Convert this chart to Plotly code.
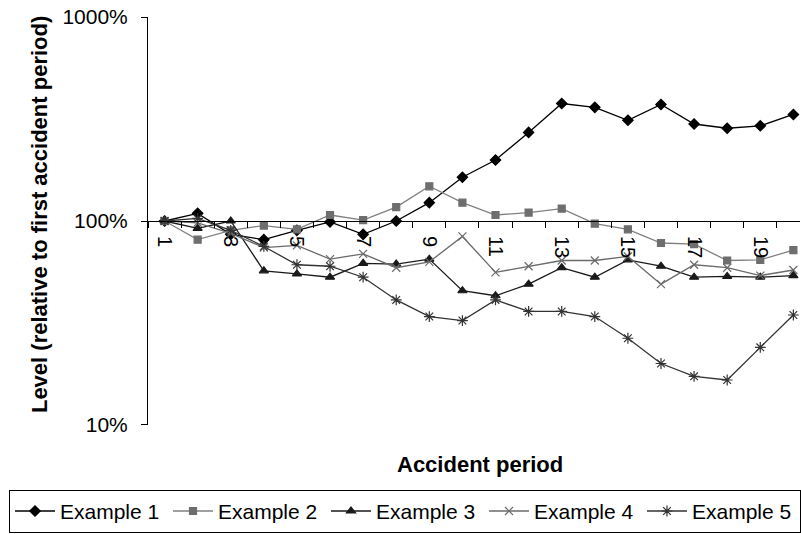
import plotly.graph_objects as go

periods = list(range(1, 21))
tick_vals = [1, 3, 5, 7, 9, 11, 13, 15, 17, 19]
tick_text = [str(v) for v in tick_vals]

example1 = [100, 109, 86, 81, 90, 99, 86, 100, 123, 164, 199, 272, 377, 361, 312, 373, 299, 285, 293, 333]
example2 = [100, 81, 90, 95, 91, 107, 101, 117, 148, 123, 107, 110, 115, 97, 91, 78, 77, 64, 64.5, 72]
example3 = [100, 92, 100, 57, 55, 53, 62, 61.5, 65, 45.5, 43, 49, 59, 53, 64.5, 60, 53, 53.5, 53, 54]
example4 = [100, 98, 87, 74, 76, 65, 69, 59, 63, 84, 56, 60, 64, 64, 67, 49, 61, 59, 54, 57.5]
example5 = [100, 103, 90, 75, 61, 60, 53, 41, 34, 32.5, 41, 36, 36, 34, 26.6, 20, 17.3, 16.6, 24, 34.6]

series = [
    ("Example 1", example1, "#000000", "#000000", "diamond", 8),
    ("Example 2", example2, "#808080", "#6e6e6e", "square", 7),
    ("Example 3", example3, "#1a1a1a", "#1a1a1a", "triangle-up", 8),
    ("Example 4", example4, "#6a6a6a", "#6a6a6a", "x-thin-open", 8),
    ("Example 5", example5, "#333333", "#333333", "asterisk-open", 9),
]

fig = go.Figure()
for name, vals, lc, mc, sym, sz in series:
    fig.add_trace(go.Scatter(
        x=periods, y=vals, name=name, mode="lines+markers",
        line=dict(color=lc, width=1.3),
        marker=dict(symbol=sym, size=sz, color=mc, line=dict(color=mc, width=1.2)),
    ))

font_family = "Liberation Sans, Arial, sans-serif"

fig.update_layout(
    width=801, height=534,
    margin=dict(l=148, r=1, t=17, b=109),
    paper_bgcolor="white", plot_bgcolor="white",
    font=dict(family=font_family, color="black", size=20),
    showlegend=True,
    legend=dict(
        orientation="h", x=-0.2117, y=-0.159, xanchor="left", yanchor="top",
        bordercolor="black", borderwidth=1, font=dict(size=21),
        entrywidth=103, tracegroupgap=0, itemwidth=40,
    ),
    xaxis=dict(
        range=[0.5, 20.2], anchor="free", position=0.5, automargin=False,
        tickmode="array", tickvals=tick_vals, ticktext=tick_text,
        tickangle=90, ticks="", ticklabelstandoff=10,
        showgrid=False, zeroline=False,
        showline=True, linecolor="black", linewidth=1,
        tickfont=dict(size=20),
        minor=dict(tick0=0.5, dtick=1, ticks="outside", ticklen=6,
                   tickcolor="black", showgrid=False),
    ),
    yaxis=dict(
        type="log", range=[0.9995, 3.0005], automargin=False,
        tickmode="array", tickvals=[10, 100, 1000], ticktext=["10%", "100%", "1000%"],
        ticks="outside", ticklen=6, tickcolor="black", ticklabeloverflow="allow",
        ticklabelstandoff=9,
        showline=True, linecolor="black", linewidth=1,
        showgrid=True, gridcolor="#8c8c8c", gridwidth=1,
        zeroline=False, tickfont=dict(size=21),
    ),
    annotations=[
        dict(text="<b>Level (relative to first accident period)</b>", xref="paper", yref="paper",
             x=-0.1672, y=0.517, textangle=-90, showarrow=False,
             font=dict(size=22), xanchor="center", yanchor="middle"),
        dict(text="<b>Accident period</b>", xref="paper", yref="paper",
             x=0.509, y=-0.098, showarrow=False, font=dict(size=22),
             xanchor="center", yanchor="middle"),
    ],
)

# remove the default page margin so the figure sits at the window's corner
fig.write_html("out.html", config={"displayModeBar": False},
               post_script="document.body.style.margin='0';")
